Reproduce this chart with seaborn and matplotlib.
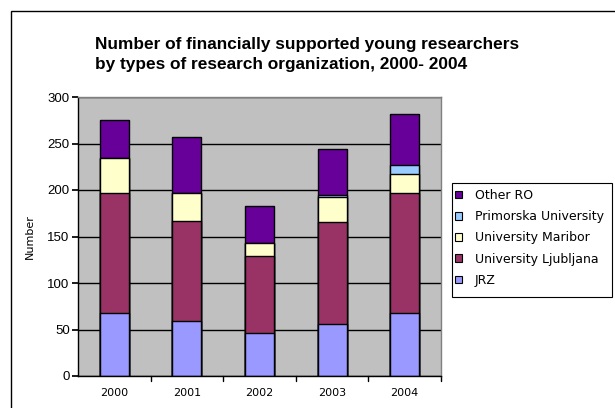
import matplotlib
matplotlib.use("Agg")
import matplotlib.pyplot as plt
import seaborn as sns
import pandas as pd
from matplotlib.patches import Rectangle, Patch

years = ["2000", "2001", "2002", "2003", "2004"]
jrz = [68, 59, 46, 56, 68]
uni_ljubljana = [129, 108, 83, 110, 129]
uni_maribor = [37, 30, 14, 27, 20]
primorska = [0, 0, 0, 2, 10]
other_ro = [41, 60, 40, 49, 55]

series = ["JRZ", "University Ljubljana", "University Maribor", "Primorska University", "Other RO"]
colors = ["#9999FF", "#993366", "#FFFFCC", "#99CCFF", "#660099"]

df = pd.DataFrame({"year": years, "JRZ": jrz, "University Ljubljana": uni_ljubljana,
                   "University Maribor": uni_maribor, "Primorska University": primorska,
                   "Other RO": other_ro})

sns.set_theme(style="white")
plt.rcParams['font.family'] = ['Liberation Sans', 'DejaVu Sans']
plt.rcParams['text.color'] = 'black'
plt.rcParams['xtick.color'] = 'black'
plt.rcParams['ytick.color'] = 'black'
plt.rcParams['axes.labelcolor'] = 'black'

fig = plt.figure(figsize=(6.15, 4.08), dpi=100)
ax = fig.add_axes([78 / 615, 1 - 376 / 408, 363 / 615, 279 / 408])
ax.set_facecolor("#C0C0C0")

# cumulative totals, drawn from the top segment down so lower segments sit in front
cum = df[series].cumsum(axis=1)
for name, col in reversed(list(zip(series, colors))):
    sns.barplot(x=df["year"], y=cum[name], color=col, saturation=1,
                width=0.4, edgecolor="black", linewidth=1, ax=ax)

ax.set_xlim(-0.5, 4.5)
ax.set_ylim(0, 300)
ax.set_yticks(range(0, 301, 50))
ax.yaxis.grid(True, color="black", linewidth=1)
ax.set_axisbelow(True)
ax.set_xticks(range(5))
ax.set_xticklabels(years, fontsize=8, family=['DejaVu Sans'])
ax.tick_params(axis="x", length=0, pad=9)
ax.tick_params(axis="y", labelsize=9.5, length=4, direction="out", left=True, pad=2)
ax.set_xlabel("")
ax.set_ylabel("Number", fontsize=8, family=['DejaVu Sans'], labelpad=9)
for x in [0.5, 1.5, 2.5, 3.5, 4.5]:
    ax.plot([x, x], [0, -5], color="black", lw=1, clip_on=False)
for s in ["top", "right"]:
    ax.spines[s].set_color("#808080")
    ax.spines[s].set_linewidth(1)
for s in ["left", "bottom"]:
    ax.spines[s].set_color("black")
    ax.spines[s].set_linewidth(1)

# legend box drawn separately so it sits where the original one does
fig.patches.append(Rectangle((452 / 615, 1 - 297 / 408), 160 / 615, 114 / 408,
                             transform=fig.transFigure, facecolor="white",
                             edgecolor="black", linewidth=0.8, zorder=1))
leg_handles = [Patch(facecolor=c, edgecolor="black", linewidth=0.8) for c in colors[::-1]]
leg = fig.legend(leg_handles, series[::-1], loc="upper left",
                 bbox_to_anchor=(455 / 615, 1 - 189 / 408), frameon=False,
                 handlelength=0.57, handleheight=0.57,
                 labelspacing=0.66, borderpad=0, handletextpad=1.0, borderaxespad=0,
                 prop={'family': 'DejaVu Sans', 'size': 9.0})
leg.set_zorder(2)

fig.text(95 / 615, 1 - 37 / 408, "Number of financially supported young researchers\nby types of research organization, 2000- 2004",
         fontsize=12.4, fontweight="bold", ha="left", va="top", linespacing=1.38)

fig.patches.append(Rectangle((11 / 615, -0.1), 1.2, 1 - 11 / 408 + 0.1, transform=fig.transFigure,
                             fill=False, edgecolor="black", linewidth=1, zorder=0))

fig.savefig("out.png", dpi=100)
